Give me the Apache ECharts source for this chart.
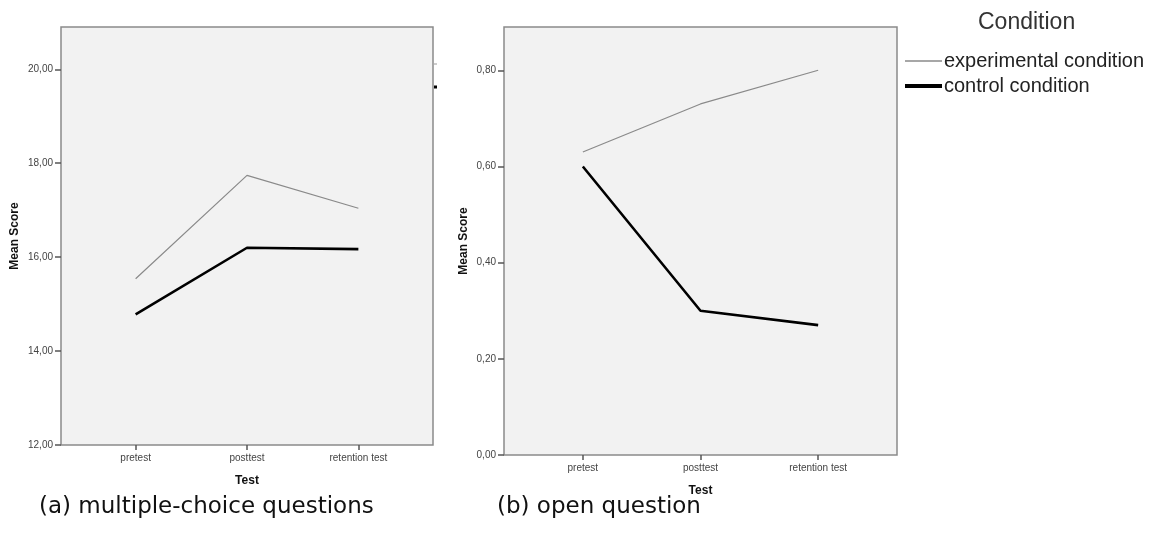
<!DOCTYPE html>
<html>
<head>
<meta charset="utf-8">
<script src="https://cdn.jsdelivr.net/npm/echarts@6/dist/echarts.min.js"></script>
<style>
  html, body { margin: 0; padding: 0; background: #fff; }
  #chart { width: 1155px; height: 535px; }
</style>
</head>
<body>
<div id="chart"></div>
<script>
// categories and values
const tests = ['pretest', 'posttest', 'retention test']
const seriesNames = ['experimental condition', 'control condition']

// (a) multiple-choice questions
const mcExperimental = [15.54, 17.74, 17.04]
const mcControl = [14.78, 16.2, 16.17]
const mcTicks = [12, 14, 16, 18, 20]

// (b) open question
const openExperimental = [0.63, 0.73, 0.8]
const openControl = [0.6, 0.3, 0.27]
const openTicks = [0, 0.2, 0.4, 0.6, 0.8]

const chart = echarts.init(document.getElementById('chart'))

const fmt = v => v.toFixed(2).replace('.', ',')
const toPoints = arr => arr.map((v, i) => [i, v])

function xAxisFor (gridIndex) {
  return {
    type: 'value',
    gridIndex: gridIndex,
    min: -0.67,
    max: 2.67,
    name: 'Test',
    nameLocation: 'middle',
    nameGap: 30,
    nameTextStyle: { fontFamily: 'Liberation Sans', fontWeight: 'bold', fontSize: 12, color: '#111' },
    axisLine: { show: false, onZero: false },
    splitLine: { show: false },
    axisTick: { show: true, length: 5, customValues: [0, 1, 2], lineStyle: { color: '#555', width: 1.5 } },
    axisLabel: {
      customValues: [0, 1, 2],
      margin: 8,
      fontFamily: 'Liberation Sans',
      fontSize: 10,
      color: '#444',
      formatter: v => tests[Math.round(v)]
    }
  }
}

function yAxisFor (gridIndex, min, max, ticks, gap) {
  return {
    type: 'value',
    gridIndex: gridIndex,
    min: min,
    max: max,
    name: 'Mean Score',
    nameLocation: 'middle',
    nameRotate: 90,
    nameGap: gap,
    nameTextStyle: { fontFamily: 'Liberation Sans', fontWeight: 'bold', fontSize: 12, color: '#111' },
    axisLine: { show: false, onZero: false },
    splitLine: { show: false },
    axisTick: { show: true, length: 6, customValues: ticks, lineStyle: { color: '#555', width: 1.5 } },
    axisLabel: {
      customValues: ticks,
      margin: 8,
      fontFamily: 'Liberation Sans',
      fontSize: 10,
      color: '#444',
      formatter: fmt
    }
  }
}

function lineSeries (name, idx, data, thick) {
  const color = thick ? '#000' : '#8a8a8a'
  return {
    name: name,
    type: 'line',
    xAxisIndex: idx,
    yAxisIndex: idx,
    data: toPoints(data),
    symbol: 'none',
    silent: true,
    itemStyle: { color: color },
    lineStyle: { color: color, width: thick ? 2.6 : 1.2 }
  }
}

const option = {
  animation: false,
  title: [
    { text: 'Condition', left: 978, top: 11, padding: 0, textStyle: { fontFamily: 'Liberation Sans', fontWeight: 'normal', fontSize: 23, color: '#333' } },
    { text: '(a) multiple-choice questions', left: 39, top: 496, padding: 0, textStyle: { fontFamily: 'DejaVu Sans', fontWeight: 'normal', fontSize: 23, color: '#111' } },
    { text: '(b) open question', left: 497, top: 496, padding: 0, textStyle: { fontFamily: 'DejaVu Sans', fontWeight: 'normal', fontSize: 23, color: '#111' } }
  ],
  legend: {
    orient: 'vertical',
    left: 903,
    top: 51,
    padding: 0,
    itemWidth: 37,
    itemHeight: 14,
    itemGap: 5,
    selectedMode: false,
    itemStyle: { opacity: 0 },
    data: [
      { name: seriesNames[0], lineStyle: { color: '#8a8a8a', width: 1.4 } },
      { name: seriesNames[1], lineStyle: { color: '#000', width: 4 } }
    ],
    textStyle: { fontFamily: 'Liberation Sans', fontSize: 20, color: '#222', padding: [0, 0, 0, -3] }
  },
  grid: [
    { left: 61, top: 27, width: 372, height: 418, show: true, backgroundColor: '#f2f2f2', borderColor: '#8a8a8a', borderWidth: 1.5 },
    { left: 504, top: 27, width: 393, height: 428, show: true, backgroundColor: '#f2f2f2', borderColor: '#8a8a8a', borderWidth: 1.5 }
  ],
  xAxis: [xAxisFor(0), xAxisFor(1)],
  yAxis: [
    yAxisFor(0, 12, 20.9, mcTicks, 40),
    yAxisFor(1, 0, 0.89, openTicks, 34)
  ],
  series: [
    lineSeries(seriesNames[0], 0, mcExperimental, false),
    lineSeries(seriesNames[1], 0, mcControl, true),
    lineSeries(seriesNames[0], 1, openExperimental, false),
    lineSeries(seriesNames[1], 1, openControl, true)
  ],
  graphic: [
    // small leftover legend marks beside the left panel
    { type: 'line', shape: { x1: 434, y1: 64, x2: 437, y2: 64 }, style: { stroke: '#999', lineWidth: 1 } },
    { type: 'line', shape: { x1: 434, y1: 87, x2: 437, y2: 87 }, style: { stroke: '#000', lineWidth: 3 } }
  ]
}

chart.setOption(option)
</script>
</body>
</html>
